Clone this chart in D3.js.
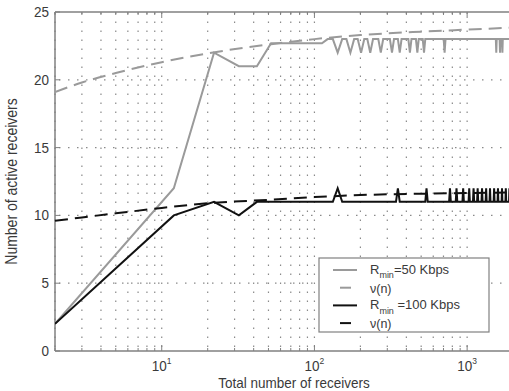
<!DOCTYPE html>
<html>
<head>
<meta charset="utf-8">
<script src="https://cdn.jsdelivr.net/npm/d3@7"></script>
<style>
body { margin: 0; background: #fff; }
text { font-family: "Liberation Sans", Arial, sans-serif; fill: #3a3a3a; }
</style>
</head>
<body>
<div class="chart"></div>
<script>
// values
var grayN = [2, 12, 22, 32, 42, 52, 112, 122, 132, 142, 152,
  162, 172, 182, 192, 202, 212, 222, 232, 242, 262, 272, 282,
  312, 322, 332, 352, 362, 372, 412, 422, 432, 462, 472, 482,
  512, 522, 532, 702, 712, 722, 1542, 1552, 1562, 1632, 1642, 1652,
  1692, 1702, 1712, 1992];
var grayV = [2, 12, 22, 21, 21, 22.7, 22.7, 23, 23, 22, 23,
  23, 22, 23, 23, 22, 23, 23, 22, 23, 23, 22, 23,
  23, 22, 23, 23, 22, 23, 23, 22, 23, 23, 22, 23,
  23, 22, 23, 23, 22, 23, 23, 22, 23, 23, 22, 23,
  23, 22, 23, 23];

var blackN = [2, 12, 22, 32, 42, 132, 142, 152, 342, 352, 362,
  532, 542, 552, 762, 772, 782, 842, 852, 862, 932, 942, 952,
  1022, 1032, 1042, 1092, 1102, 1112, 1162, 1172, 1182, 1242, 1252, 1262,
  1322, 1332, 1342, 1402, 1412, 1422, 1492, 1502, 1512, 1582, 1592, 1602,
  1682, 1692, 1702, 1782, 1792, 1802, 1882, 1892, 1902, 1992];
var blackV = [2, 10, 11, 10, 11, 11, 12, 11, 11, 12, 11,
  11, 12, 11, 11, 12, 11, 11, 12, 11, 11, 12, 11,
  11, 12, 11, 11, 12, 11, 11, 12, 11, 11, 12, 11,
  11, 12, 11, 11, 12, 11, 11, 12, 11, 11, 12, 11,
  11, 12, 11, 11, 12, 11, 11, 12, 11, 11];

var nuN = [2, 3, 5, 10, 20, 50, 100, 200, 500, 1000, 2000];
var nuGray = [19.1, 19.8, 20.5, 21.3, 21.95, 22.6, 23.0, 23.3, 23.55, 23.7, 23.85];
var nuBlack = [9.6, 9.85, 10.15, 10.55, 10.9, 11.15, 11.35, 11.5, 11.6, 11.65, 11.7];

var yTicks = [0, 5, 10, 15, 20, 25];
var xMajor = [10, 100, 1000];
var xMajorExp = ['1', '2', '3'];

var legendLabels = ['=50 Kbps', 'ν(n)', ' =100 Kbps', 'ν(n)'];

var width = 509, height = 391;
var plot = { left: 55, top: 12, right: 533, bottom: 351 };
var stretch = 1.12;

var svg = d3.select('.chart')
  .append('svg')
  .attr('width', width)
  .attr('height', height);

var xScale = d3.scaleLog()
  .domain([2, 2700])
  .range([plot.left, plot.right]);

var yScale = d3.scaleLinear()
  .domain([0, 25])
  .range([plot.bottom, plot.top]);

svg.append('clipPath').attr('id', 'clip')
  .append('rect')
  .attr('x', plot.left).attr('y', plot.top)
  .attr('width', plot.right - plot.left)
  .attr('height', plot.bottom - plot.top);

// dotted grid
var grid = svg.append('g')
  .attr('stroke', '#8a8a8a')
  .attr('stroke-width', 1.2)
  .attr('stroke-dasharray', '1.5,7.5');

grid.selectAll('.vg')
  .data(xScale.ticks())
  .enter()
  .append('line')
  .attr('x1', d => xScale(d)).attr('x2', d => xScale(d))
  .attr('y1', plot.bottom - 4).attr('y2', plot.top);

grid.selectAll('.hg')
  .data(yTicks.slice(1, -1))
  .enter()
  .append('line')
  .attr('x1', plot.left + 4).attr('x2', plot.right)
  .attr('y1', d => yScale(d)).attr('y2', d => yScale(d));

// axes box and ticks
var axis = svg.append('g').attr('stroke', '#808080').attr('stroke-width', 1.5);
axis.append('line').attr('x1', plot.left).attr('x2', plot.left).attr('y1', plot.top).attr('y2', plot.bottom);
axis.append('line').attr('x1', plot.left).attr('x2', plot.right).attr('y1', plot.bottom).attr('y2', plot.bottom);
axis.append('line').attr('x1', plot.left).attr('x2', plot.right).attr('y1', plot.top).attr('y2', plot.top);

var tickLen = d => xMajor.indexOf(d) >= 0 ? 6 : 3;
axis.selectAll('.xtb')
  .data(xScale.ticks())
  .enter()
  .append('line')
  .attr('stroke-width', 1)
  .attr('x1', d => xScale(d)).attr('x2', d => xScale(d))
  .attr('y1', plot.bottom).attr('y2', d => plot.bottom - tickLen(d));
axis.selectAll('.xtt')
  .data(xScale.ticks())
  .enter()
  .append('line')
  .attr('stroke-width', 1)
  .attr('x1', d => xScale(d)).attr('x2', d => xScale(d))
  .attr('y1', plot.top).attr('y2', d => plot.top + tickLen(d));
axis.selectAll('.yt')
  .data(yTicks)
  .enter()
  .append('line')
  .attr('stroke-width', 1)
  .attr('x1', plot.left).attr('x2', plot.left + 5)
  .attr('y1', d => yScale(d)).attr('y2', d => yScale(d));

// tick labels
svg.selectAll('.ylab')
  .data(yTicks)
  .enter()
  .append('text')
  .attr('transform', d => `translate(49, ${yScale(d) + 5}) scale(1, ${stretch})`)
  .attr('text-anchor', 'end')
  .attr('font-size', 13.5)
  .text(d => d);

var xl = svg.selectAll('.xlab')
  .data(xMajor)
  .enter()
  .append('text')
  .attr('transform', d => `translate(${xScale(d) - 10}, 371) scale(1, ${stretch})`)
  .attr('font-size', 13.5);
xl.append('tspan').text('10');
xl.append('tspan')
  .attr('font-size', 8.5)
  .attr('dy', -6.5)
  .text((d, i) => xMajorExp[i]);

svg.append('text')
  .attr('transform', `translate(294, 388) scale(1, ${stretch})`)
  .attr('text-anchor', 'middle')
  .attr('font-size', 13.5)
  .text('Total number of receivers');

svg.append('text')
  .attr('transform', `translate(17, ${(plot.top + plot.bottom) / 2}) scale(${stretch}, 1) rotate(-90)`)
  .attr('text-anchor', 'middle')
  .attr('font-size', 14)
  .text('Number of active receivers');

// series
var pts = (ns, vs) => ns.map((n, i) => [n, vs[i]]);

var line = d3.line()
  .x(d => xScale(d[0]))
  .y(d => yScale(d[1]));

var smooth = d3.line()
  .x(d => xScale(d[0]))
  .y(d => yScale(d[1]))
  .curve(d3.curveMonotoneX);

var series = [
  { d: smooth(pts(nuN, nuGray)), color: '#9a9a9a', dash: '13,7' },
  { d: line(pts(grayN, grayV)), color: '#9a9a9a', dash: null },
  { d: smooth(pts(nuN, nuBlack)), color: '#111', dash: '13,7' },
  { d: line(pts(blackN, blackV)), color: '#111', dash: null }
];

svg.append('g')
  .attr('clip-path', 'url(#clip)')
  .selectAll('.line')
  .data(series)
  .enter()
  .append('path')
  .attr('class', 'line')
  .attr('d', d => d.d)
  .attr('fill', 'none')
  .attr('stroke', d => d.color)
  .attr('stroke-width', 2)
  .attr('stroke-dasharray', d => d.dash);

// legend
var lg = svg.append('g');
lg.append('rect')
  .attr('x', 319).attr('y', 258)
  .attr('width', 170).attr('height', 74)
  .attr('fill', '#fff')
  .attr('stroke', '#808080')
  .attr('stroke-width', 1.2);

var rows = [
  { color: '#9a9a9a', dashed: false, sub: true },
  { color: '#9a9a9a', dashed: true, sub: false },
  { color: '#111', dashed: false, sub: true },
  { color: '#111', dashed: true, sub: false }
];

rows.forEach((r, i) => {
  var y = 270 + i * 17.7;
  lg.append('line')
    .attr('x1', r.dashed ? 340 : 333).attr('x2', r.dashed ? 351 : 357)
    .attr('y1', y).attr('y2', y)
    .attr('stroke', r.color)
    .attr('stroke-width', 2);
  var t = lg.append('text')
    .attr('transform', `translate(370, ${y + (r.sub ? 3.5 : 5)}) scale(1, ${r.sub ? 1.05 : 1})`)
    .attr('font-size', r.sub ? 13 : 12.5);
  if (r.sub) {
    t.append('tspan').text('R');
    t.append('tspan').attr('font-size', 9).attr('dy', 4.5).text('min');
    t.append('tspan').attr('dy', -4.5).text(legendLabels[i]);
  } else {
    t.text(legendLabels[i]);
  }
});
</script>
</body>
</html>
